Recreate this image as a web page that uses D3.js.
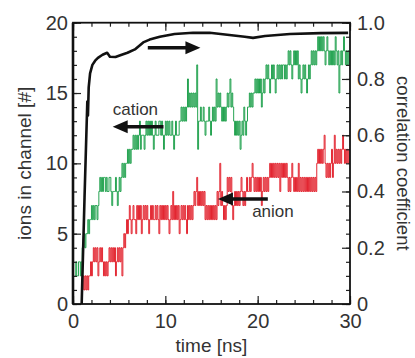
<!DOCTYPE html>
<html>
<head>
<meta charset="utf-8">
<script src="https://cdn.jsdelivr.net/npm/d3@7"></script>
<style>
  body { margin: 0; background: #fff; }
  svg { display: block; font-family: "Liberation Sans", Arial, sans-serif; }
</style>
</head>
<body>
<script>
// sampled every 0.1 ns from t = 0, one row per ns
const dt = 0.1

const cation = [
    null, null, 2, 3, 2, 2, 3, 3, 2, 3,
    4, 4, 5, 4, 5, 5, 6, 5, 6, 6,
    7, 6, 7, 6, 7, 7, 6, 7, 8, 9,
    8, 9, 8, 9, 9, 8, 9, 8, 8, 9,
    9, 8, 7, 8, 8, 8, 9, 8, 7, 8,
    9, 8, 9, 10, 9, 10, 9, 10, 10, 11,
    10, 11, 10, 11, 11, 12, 11, 12, 11, 12,
    11, 12, 13, 11, 12, 12, 12, 11, 12, 13,
    12, 13, 12, 13, 12, 13, 12, 11, 12, 13,
    12, 12, 12, 13, 13, 12, 13, 12, 11, 12,
    13, 12, 13, 12, 13, 12, 12, 13, 12, 11,
    12, 13, 12, 12, 12, 13, 13, 14, 13, 14,
    13, 14, 13, 14, 16, 14, 15, 14, 15, 14,
    15, 14, 15, 14, 17, 11, 13, 13, 14, 13,
    13, 14, 13, 12, 13, 13, 13, 14, 13, 12,
    13, 14, 13, 14, 13, 16, 14, 15, 14, 15,
    14, 13, 14, 13, 14, 13, 14, 15, 14, 15,
    16, 14, 15, 14, 13, 12, 13, 12, 13, 12,
    13, 11, 12, 13, 12, 14, 13, 12, 13, 14,
    14, 15, 14, 15, 14, 15, 15, 16, 15, 16,
    15, 16, 15, 16, 14, 15, 16, 15, 16, 17,
    16, 17, 16, 15, 16, 17, 16, 17, 16, 15,
    16, 17, 16, 17, 16, 17, 16, 17, 17, 16,
    17, 16, 17, 18, 17, 18, 17, 16, 17, 18,
    17, 18, 17, 18, 16, 17, 16, 15, 16, 17,
    16, 17, 16, 15, 16, 17, 16, 17, 18, 17,
    18, 17, 18, 17, 18, 19, 18, 19, 18, 19,
    18, 19, 18, 17, 18, 19, 18, 17, 18, 17,
    18, 17, 18, 17, 19, 18, 17, 18, 15, 17,
    18, 17, 18, 19, 18, 17, 18, 17, 18, 17
]

const anion = [
    null, null, null, null, null, null, null, null, null, null,
    1, 2, 1, 2, 1, 2, 1, 2, 2, 3,
    2, 3, 4, 3, 4, 3, 4, 2, 3, 4,
    3, 4, 3, 2, 3, 2, 3, 2, 3, 4,
    3, 4, 3, 4, 3, 4, 2, 3, 4, 3,
    4, 3, 4, 2, 4, 5, 4, 5, 6, 5,
    6, 7, 6, 5, 6, 7, 6, 6, 5, 7,
    6, 7, 6, 7, 5, 6, 7, 6, 7, 6,
    7, 6, 5, 6, 7, 6, 7, 6, 6, 7,
    6, 7, 6, 5, 7, 6, 7, 6, 7, 6,
    7, 6, 7, 6, 5, 6, 7, 6, 8, 6,
    7, 6, 7, 6, 7, 5, 6, 7, 6, 7,
    6, 7, 6, 5, 7, 6, 7, 6, 7, 6,
    7, 8, 7, 8, 9, 7, 8, 7, 8, 7,
    8, 7, 8, 6, 7, 6, 7, 6, 7, 6,
    7, 6, 7, 6, 7, 6, 8, 7, 8, 10,
    7, 8, 7, 6, 7, 6, 7, 9, 8, 9,
    8, 9, 7, 6, 7, 8, 7, 8, 7, 8,
    7, 8, 9, 8, 7, 8, 7, 8, 9, 8,
    8, 9, 8, 9, 10, 9, 8, 9, 8, 9,
    8, 9, 8, 9, 7, 8, 9, 8, 9, 8,
    9, 8, 9, 10, 9, 10, 9, 10, 9, 10,
    9, 10, 9, 10, 8, 10, 9, 10, 9, 10,
    9, 10, 9, 8, 9, 8, 9, 10, 9, 8,
    9, 8, 9, 8, 10, 8, 9, 8, 9, 8,
    9, 8, 9, 8, 9, 8, 9, 8, 9, 8,
    9, 8, 9, 8, 10, 11, 10, 11, 10, 11,
    10, 11, 12, 10, 9, 10, 9, 10, 9, 10,
    11, 9, 10, 12, 10, 11, 10, 11, 10, 11,
    10, 11, 12, 11, 10, 11, 10, 11, 10, 11
]

// correlation coefficient (right axis), [t, r]
const correlation = [
    [0.94, 0], [1.25, 0.38], [1.55, 0.72], [1.62, 0.67], [1.7, 0.77], [1.85, 0.82],
    [2.1, 0.85], [2.4, 0.865], [2.7, 0.875], [3.2, 0.886], [3.7, 0.893], [4.0, 0.879],
    [4.6, 0.878], [5.2, 0.885], [5.9, 0.893], [6.7, 0.905], [7.6, 0.93], [8.3, 0.94],
    [9.4, 0.95], [11, 0.96], [13, 0.964], [14.8, 0.964], [16.7, 0.957], [18.6, 0.95],
    [19.5, 0.946], [20.8, 0.953], [23.5, 0.96], [26.8, 0.963], [29.8, 0.964]
]

const xTicks = [0, 10, 20, 30]
const leftTicks = [0, 5, 10, 15, 20]
const rightTicks = [0, 0.2, 0.4, 0.6, 0.8, 1.0]

// annotations: arrows point at the axis each curve belongs to
const arrows = [
    {axis: 'right', from: [8.1, 0.911], to: [13.8, 0.911]},
    {axis: 'left', from: [9.8, 12.6], to: [4.3, 12.6]},
    {axis: 'left', from: [21.1, 7.47], to: [15.7, 7.47]}
]
const labels = [
    {text: 'cation', at: [4.3, 13.45]},
    {text: 'anion', at: [19.4, 6.19]}
]

const W = 415, H = 358
const margin = {left: 73, right: 65, top: 22.7, bottom: 54}

const x = d3.scaleLinear([0, 30], [margin.left, W - margin.right])
const yL = d3.scaleLinear([0, 20], [H - margin.bottom, margin.top])
const yR = d3.scaleLinear([0, 1], [H - margin.bottom, margin.top])

const svg = d3.select('body').append('svg')
    .attr('width', W)
    .attr('height', H)

const plot = svg.append('g')

const stepLine = d3.line()
    .defined(d => d != null)
    .x((d, i) => x(i * dt))
    .y(d => yL(d))
    .curve(d3.curveStepAfter)

plot.append('path')
    .datum(anion)
    .attr('fill', 'none')
    .attr('stroke', '#e0101c')
    .attr('stroke-width', 0.9)
    .attr('d', stepLine)

plot.append('path')
    .datum(cation)
    .attr('fill', 'none')
    .attr('stroke', '#0e9a40')
    .attr('stroke-width', 0.9)
    .attr('d', stepLine)

plot.append('path')
    .datum(correlation)
    .attr('fill', 'none')
    .attr('stroke', '#111')
    .attr('stroke-width', 2.6)
    .attr('stroke-linejoin', 'round')
    .attr('d', d3.line().x(d => x(d[0])).y(d => yR(d[1])))

// arrows
arrows.forEach(a => {
    const ys = a.axis === 'right' ? yR : yL
    const x0 = x(a.from[0]), y0 = ys(a.from[1])
    const x1 = x(a.to[0]), y1 = ys(a.to[1])
    const dir = Math.sign(x1 - x0)
    const headLen = 15, headHalf = 6.5
    plot.append('line')
        .attr('x1', x0).attr('y1', y0)
        .attr('x2', x1 - dir * (headLen - 2)).attr('y2', y1)
        .attr('stroke', '#111')
        .attr('stroke-width', 3.6)
    plot.append('path')
        .attr('d', `M${x1},${y1}L${x1 - dir * headLen},${y1 - headHalf}L${x1 - dir * headLen},${y1 + headHalf}Z`)
        .attr('fill', '#111')
})

plot.selectAll('text.note')
    .data(labels)
    .join('text')
    .attr('class', 'note')
    .attr('x', d => x(d.at[0]))
    .attr('y', d => yL(d.at[1]))
    .attr('font-size', 17)
    .attr('fill', '#333')
    .text(d => d.text)

// axes, all ticks pointing inward
const styleAxis = (g) => {
    g.select('.domain').remove()
    g.selectAll('line').attr('stroke', '#222').attr('stroke-width', 1.2)
    g.selectAll('text').attr('font-size', 20).attr('fill', '#333').attr('font-family', null)
}

svg.append('g')
    .attr('transform', `translate(0,${yL(0)})`)
    .call(d3.axisBottom(x).tickValues(d3.range(0, 31, 2)).tickFormat('').tickSize(-4))
    .call(styleAxis)
svg.append('g')
    .attr('transform', `translate(0,${yL(0)})`)
    .call(d3.axisBottom(x).tickValues(xTicks).tickSize(-8).tickPadding(10))
    .call(styleAxis)
svg.append('g')
    .attr('transform', `translate(0,${margin.top})`)
    .call(d3.axisTop(x).tickValues(d3.range(0, 31, 2)).tickFormat('').tickSize(-4))
    .call(styleAxis)
svg.append('g')
    .attr('transform', `translate(0,${margin.top})`)
    .call(d3.axisTop(x).tickValues(xTicks).tickFormat('').tickSize(-8))
    .call(styleAxis)

svg.append('g')
    .attr('transform', `translate(${x(0)},0)`)
    .call(d3.axisLeft(yL).tickValues(d3.range(0, 21, 1)).tickFormat('').tickSize(-4))
    .call(styleAxis)
svg.append('g')
    .attr('transform', `translate(${x(0)},0)`)
    .call(d3.axisLeft(yL).tickValues(leftTicks).tickSize(-8).tickPadding(5))
    .call(styleAxis)

svg.append('g')
    .attr('transform', `translate(${x(30)},0)`)
    .call(d3.axisRight(yR).tickValues(d3.range(0, 1.001, 0.05)).tickFormat('').tickSize(-4))
    .call(styleAxis)
svg.append('g')
    .attr('transform', `translate(${x(30)},0)`)
    .call(d3.axisRight(yR).tickValues(rightTicks).tickSize(-8).tickPadding(7)
        .tickFormat(d => d === 0 ? '0' : d3.format('.1f')(d)))
    .call(styleAxis)

// frame
svg.append('rect')
    .attr('x', x(0)).attr('y', yL(20))
    .attr('width', x(30) - x(0)).attr('height', yL(0) - yL(20))
    .attr('fill', 'none')
    .attr('stroke', '#111')
    .attr('stroke-width', 1.8)
svg.append('line')
    .attr('x1', x(0)).attr('x2', x(0))
    .attr('y1', yL(20)).attr('y2', yL(0))
    .attr('stroke', '#111')
    .attr('stroke-width', 2.6)

// titles
svg.append('text')
    .attr('transform', `translate(31,${(yL(0) + yL(20)) / 2}) rotate(-90)`)
    .attr('text-anchor', 'middle')
    .attr('font-size', 19)
    .attr('fill', '#333')
    .text('ions in channel [#]')
svg.append('text')
    .attr('transform', `translate(397,${(yL(0) + yL(20)) / 2}) rotate(90)`)
    .attr('text-anchor', 'middle')
    .attr('font-size', 18.5)
    .attr('fill', '#333')
    .text('correlation coefficient')
svg.append('text')
    .attr('x', (x(0) + x(30)) / 2)
    .attr('y', 352)
    .attr('text-anchor', 'middle')
    .attr('font-size', 19)
    .attr('fill', '#333')
    .text('time [ns]')
</script>
</body>
</html>
